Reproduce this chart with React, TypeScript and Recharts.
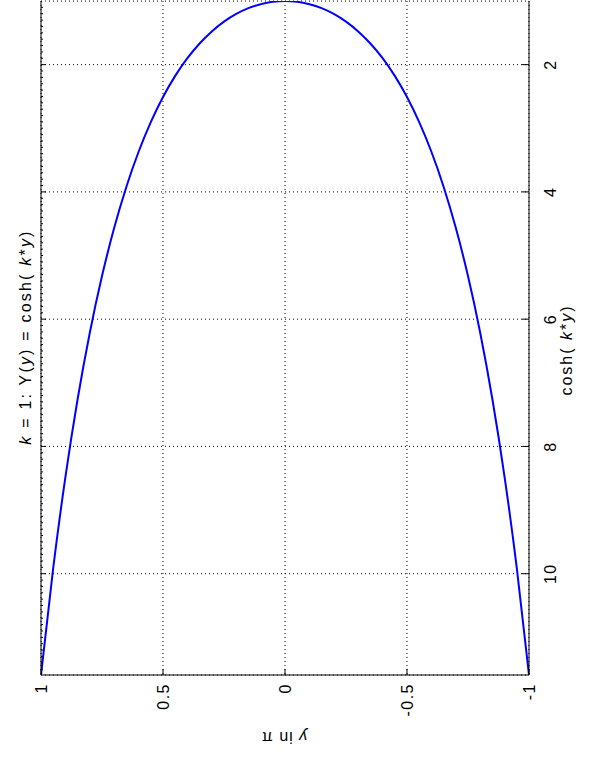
import React from 'react';
import { LineChart, Line, XAxis, YAxis, CartesianGrid } from 'recharts';

// y in units of pi, and cosh(k*y) with k = 1
const yInPi = [
  -1, -0.95, -0.9, -0.85, -0.8, -0.75, -0.7, -0.65, -0.6, -0.55, -0.5,
  -0.45, -0.4, -0.35, -0.3, -0.25, -0.2, -0.15, -0.1, -0.05, 0,
  0.05, 0.1, 0.15, 0.2, 0.25, 0.3, 0.35, 0.4, 0.45, 0.5,
  0.55, 0.6, 0.65, 0.7, 0.75, 0.8, 0.85, 0.9, 0.95, 1,
];
const coshValues = [
  11.592, 9.913, 8.481, 7.258, 6.213, 5.323, 4.564, 3.918, 3.369, 2.903, 2.509,
  2.177, 1.899, 1.668, 1.478, 1.325, 1.204, 1.113, 1.05, 1.012, 1.0,
  1.012, 1.05, 1.113, 1.204, 1.325, 1.478, 1.668, 1.899, 2.177, 2.509,
  2.903, 3.369, 3.918, 4.564, 5.323, 6.213, 7.258, 8.481, 9.913, 11.592,
];

const xTicks = [1, 0.5, 0, -0.5, -1];
const xTickLabels = ['1', '0.5', '0', '-0.5', '-1'];
const yTicks = [2, 4, 6, 8, 10];
const yMinorTicks = Array.from({ length: 105 }, (_, i) => (i + 11) / 10);

const data = yInPi.map((y, i) => ({ y, c: coshValues[i] }));

const W = 589;
const H = 765;
const PLOT_LEFT = 41;
const PLOT_RIGHT = 529;
const PLOT_TOP = 1;
const PLOT_BOTTOM = 675;
const FONT = '"Liberation Sans", Arial, sans-serif';

const BottomTick = (props: any) => {
  const { x, payload } = props;
  const idx = xTicks.indexOf(payload.value);
  const label = idx >= 0 ? xTickLabels[idx] : String(payload.value);
  return (
    <g>
      <line x1={x} x2={x} y1={PLOT_BOTTOM} y2={PLOT_BOTTOM - 6} stroke="#000" />
      <text
        x={x}
        y={PLOT_BOTTOM + 8}
        transform={`rotate(-90 ${x} ${PLOT_BOTTOM + 8})`}
        textAnchor="end"
        dominantBaseline="central"
        fontFamily={FONT}
        fontSize={16}
        letterSpacing={1.5}
        fill="#000"
      >
        {label}
      </text>
    </g>
  );
};

const TopTick = (props: any) => {
  const { x } = props;
  return <line x1={x} x2={x} y1={PLOT_TOP} y2={PLOT_TOP + 8} stroke="#000" />;
};

const RightTick = (props: any) => {
  const { y, payload } = props;
  const tx = PLOT_RIGHT + 22;
  return (
    <g>
      <line x1={PLOT_RIGHT} x2={PLOT_RIGHT - 7} y1={y} y2={y} stroke="#000" />
      <text
        x={tx}
        y={y}
        transform={`rotate(-90 ${tx} ${y})`}
        textAnchor="middle"
        dominantBaseline="central"
        fontFamily={FONT}
        fontSize={16}
        letterSpacing={1.5}
        fill="#000"
      >
        {payload.value}
      </text>
    </g>
  );
};

const LeftTick = (props: any) => {
  const { y, payload } = props;
  const major = Math.round(payload.value * 10) % 20 === 0;
  return <line x1={PLOT_LEFT} x2={PLOT_LEFT + (major ? 5 : 2)} y1={y} y2={y} stroke="#000" />;
};

export default function App() {
  return (
    <div style={{ position: 'absolute', left: 0, top: 0, width: W, height: H, background: '#fff' }}>
      <LineChart width={W} height={H} data={data} margin={{ top: PLOT_TOP, right: 0, bottom: 0, left: 0 }}>
        <CartesianGrid
          xAxisId="bottom"
          yAxisId="right"
          stroke="#000"
          strokeDasharray="1 3"
        />
        <XAxis
          xAxisId="bottom"
          type="number"
          dataKey="y"
          domain={[-1, 1]}
          reversed
          allowDataOverflow
          ticks={xTicks}
          interval={0}
          orientation="bottom"
          height={H - PLOT_BOTTOM}
          axisLine={{ stroke: '#000' }}
          tickLine={false}
          tick={<BottomTick />}
        />
        <XAxis
          xAxisId="top"
          type="number"
          dataKey="y"
          domain={[-1, 1]}
          reversed
          allowDataOverflow
          ticks={[0.5, 0, -0.5]}
          interval={0}
          orientation="top"
          height={0}
          axisLine={{ stroke: '#000' }}
          tickLine={false}
          tick={<TopTick />}
        />
        <YAxis
          yAxisId="left"
          type="number"
          domain={[1, 11.592]}
          reversed
          allowDataOverflow
          ticks={yMinorTicks}
          interval={0}
          orientation="left"
          width={PLOT_LEFT}
          axisLine={{ stroke: '#000' }}
          tickLine={false}
          tick={<LeftTick />}
        />
        <YAxis
          yAxisId="right"
          type="number"
          domain={[1, 11.592]}
          reversed
          allowDataOverflow
          ticks={yTicks}
          interval={0}
          orientation="right"
          width={W - PLOT_RIGHT}
          axisLine={{ stroke: '#000' }}
          tickLine={false}
          tick={<RightTick />}
        />
        <Line
          xAxisId="bottom"
          yAxisId="right"
          type="monotone"
          dataKey="c"
          stroke="#0000ff"
          strokeWidth={2}
          dot={false}
          isAnimationActive={false}
        />
      </LineChart>
      <svg
        width={W}
        height={H}
        style={{ position: 'absolute', left: 0, top: 0, pointerEvents: 'none' }}
      >
        <text
          x={25}
          y={337}
          transform="rotate(-90 25 337)"
          textAnchor="middle"
          dominantBaseline="central"
          fontFamily={FONT}
          fontSize={16}
          letterSpacing={2.2}
          fill="#000"
        >
          <tspan fontStyle="italic">k</tspan> = 1: Y(<tspan fontStyle="italic">y</tspan>) = cosh( <tspan fontStyle="italic">k</tspan>*<tspan fontStyle="italic">y</tspan>)
        </text>
        <text
          x={566}
          y={350}
          transform="rotate(-90 566 350)"
          textAnchor="middle"
          dominantBaseline="central"
          fontFamily={FONT}
          fontSize={16}
          letterSpacing={2}
          fill="#000"
        >
          cosh( <tspan fontStyle="italic">k</tspan>*<tspan fontStyle="italic">y</tspan>)
        </text>
        <text
          x={284}
          y={737}
          transform="rotate(180 284 737)"
          textAnchor="middle"
          dominantBaseline="central"
          fontFamily={FONT}
          fontSize={16}
          letterSpacing={1}
          fill="#000"
        >
          <tspan fontStyle="italic">y</tspan> in π
        </text>
      </svg>
    </div>
  );
}
